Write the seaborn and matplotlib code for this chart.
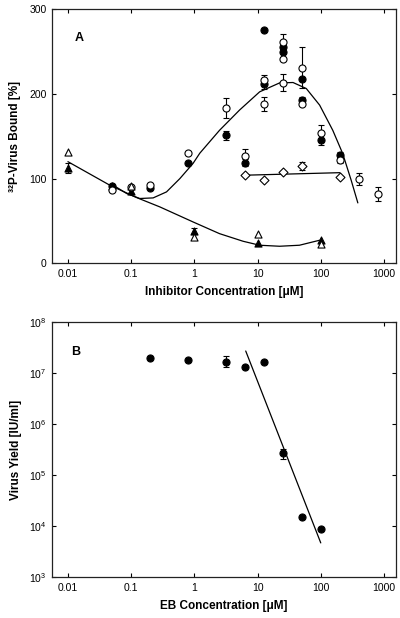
import numpy as np
import seaborn as sns
import matplotlib.pyplot as plt
from matplotlib.ticker import FixedLocator, FixedFormatter, NullLocator

sns.set_style("ticks")
plt.rcParams['font.family'] = ['Liberation Sans', 'DejaVu Sans']
plt.rcParams['text.color'] = 'black'
plt.rcParams['axes.labelcolor'] = 'black'
plt.rcParams['xtick.color'] = 'black'
plt.rcParams['ytick.color'] = 'black'
plt.rcParams['axes.edgecolor'] = 'black'

'''
Panel A data
'''
# open circles
oc_x = [0.05, 0.1, 0.2, 0.8, 3.2, 6.25, 12.5, 12.5, 25, 25, 25, 50, 50, 100, 200, 400, 800]
oc_y = [86, 90, 93, 130, 183, 127, 217, 188, 261, 241, 213, 231, 188, 154, 122, 100, 82]
oc_e = [0, 0, 0, 0, 12, 8, 5, 8, 10, 0, 10, 24, 0, 9, 3, 7, 8]
# filled circles
fc_x = [0.05, 0.2, 0.8, 3.2, 6.25, 12.5, 12.5, 25, 25, 50, 50, 100, 200]
fc_y = [91, 89, 118, 151, 119, 275, 212, 255, 249, 218, 193, 146, 128]
fc_e = [0, 0, 0, 5, 4, 0, 6, 0, 5, 0, 3, 6, 3]
# open triangles
ot_x = [0.01, 0.1, 1, 10, 100]
ot_y = [131, 91, 31, 34, 23]
# filled triangles
ft_x = [0.01, 0.05, 0.1, 1, 10, 100]
ft_y = [113, 91, 85, 38, 24, 27]
ft_e = [6, 0, 0, 4, 0, 0]
# open diamonds
od_x = [6.25, 12.5, 25, 50, 200]
od_y = [104, 98, 108, 115, 102]
od_e = [0, 0, 0, 5, 0]

# fitted curves
bell_x = [0.049, 0.085, 0.137, 0.223, 0.363, 0.59, 0.955, 1.22, 2.5, 5.2, 10.8,
          22.3, 36.4, 59, 96, 155, 222, 303, 386]
bell_y = [93.4, 82.4, 76.5, 77.2, 84.3, 100, 118, 130, 157, 181, 202.5,
          213, 213.5, 206.4, 186.8, 157, 129.7, 98, 71.3]
desc_x = [0.01, 0.046, 0.122, 0.284, 0.955, 2.5, 5.9, 10.8, 22.3, 46, 96]
desc_y = [120, 92.2, 77.6, 66.6, 48.8, 35, 26, 21.3, 20.1, 21.3, 27.2]
diam_x = [6.25, 200]
diam_y = [104, 107]

'''
Panel B data
'''
eb_x = [0.2, 0.8, 3.2, 6.25, 12.5, 25, 50, 100]
eb_y = [1.94e7, 1.8e7, 1.67e7, 1.29e7, 1.67e7, 2.7e5, 1.5e4, 8.7e3]
eb_lo = [0, 0, 0.35e7, 0, 0, 0.6e5, 0, 0]
eb_hi = [0, 0, 0.45e7, 0, 0, 0.6e5, 0, 0]
fit_x = [6.5, 100]
fit_y = [2.7e7, 4.7e3]

xticks = [0.01, 0.1, 1, 10, 100, 1000]
xlabels = ["0.01", "0.1", "1", "10", "100", "1000"]

fig = plt.figure(figsize=(4, 6.18), dpi=100)
ax1 = fig.add_axes([0.13, 0.574, 0.86, 0.411])
ax2 = fig.add_axes([0.13, 0.066, 0.86, 0.413])

ms = 26
lw = 0.9
tfs = 7.5
lfs = 8.5


def ebar(ax, x, y, e):
    x = np.asarray(x); y = np.asarray(y); e = np.asarray(e, dtype=float)
    m = e > 0
    if m.any():
        ax.errorbar(x[m], y[m], yerr=e[m], fmt="none", ecolor="black",
                    elinewidth=0.8, capsize=2, capthick=0.8, zorder=2)


def style(ax):
    ax.set_xscale("log")
    ax.set_xlim(0.0056, 1550)
    ax.xaxis.set_major_locator(FixedLocator(xticks))
    ax.xaxis.set_major_formatter(FixedFormatter(xlabels))
    ax.xaxis.set_minor_locator(NullLocator())
    ax.tick_params(which="both", direction="in", top=True, right=True,
                   length=3, width=0.8, labelsize=tfs, pad=4)
    for s in ax.spines.values():
        s.set_linewidth(0.9)
        s.set_color("#222222")


def curve(ax, x, y):
    sns.lineplot(x=x, y=y, ax=ax, color="black", lw=lw, sort=False, estimator=None)


# panel A
curve(ax1, bell_x, bell_y)
curve(ax1, desc_x, desc_y)
curve(ax1, diam_x, diam_y)

ebar(ax1, oc_x, oc_y, oc_e)
ebar(ax1, fc_x, fc_y, fc_e)
ebar(ax1, ft_x, ft_y, ft_e)
ebar(ax1, od_x, od_y, od_e)

sns.scatterplot(x=fc_x, y=fc_y, ax=ax1, marker="o", s=ms, color="black",
                edgecolor="black", linewidth=0.8, zorder=3)
sns.scatterplot(x=oc_x, y=oc_y, ax=ax1, marker="o", s=ms, color="white",
                edgecolor="black", linewidth=0.8, zorder=4)
sns.scatterplot(x=ft_x, y=ft_y, ax=ax1, marker="^", s=ms, color="black",
                edgecolor="black", linewidth=0.8, zorder=3)
sns.scatterplot(x=ot_x, y=ot_y, ax=ax1, marker="^", s=ms, color="white",
                edgecolor="black", linewidth=0.8, zorder=4)
sns.scatterplot(x=od_x, y=od_y, ax=ax1, marker="D", s=ms * 0.8, color="white",
                edgecolor="black", linewidth=0.8, zorder=4)

style(ax1)
ax1.set_ylim(0, 300)
ax1.set_yticks([0, 100, 200, 300])
ax1.set_ylabel("³²P-Virus Bound [%]", fontsize=lfs, fontweight="bold", labelpad=6)
ax1.set_xlabel("Inhibitor Concentration [μM]", fontsize=lfs, fontweight="bold", labelpad=5)
ax1.text(0.065, 0.875, "A", transform=ax1.transAxes, fontsize=9, fontweight="bold")

# panel B
curve(ax2, fit_x, fit_y)
ax2.errorbar(eb_x, eb_y, yerr=[eb_lo, eb_hi], fmt="none", ecolor="black",
             elinewidth=0.8, capsize=2, capthick=0.8, zorder=2)
sns.scatterplot(x=eb_x, y=eb_y, ax=ax2, marker="o", s=ms, color="black",
                edgecolor="black", linewidth=0.8, zorder=3)
style(ax2)
ax2.set_yscale("log")
ax2.set_ylim(1e3, 1e8)
ax2.yaxis.set_minor_locator(NullLocator())
ax2.tick_params(axis="y", which="both", direction="in", right=True, length=3, labelsize=tfs)
ax2.set_ylabel("Virus Yield [IU/ml]", fontsize=lfs, fontweight="bold", labelpad=5)
ax2.set_xlabel("EB Concentration [μM]", fontsize=lfs, fontweight="bold", labelpad=5)
ax2.text(0.055, 0.87, "B", transform=ax2.transAxes, fontsize=9, fontweight="bold")

fig.savefig("out.png", dpi=100, facecolor="white")
